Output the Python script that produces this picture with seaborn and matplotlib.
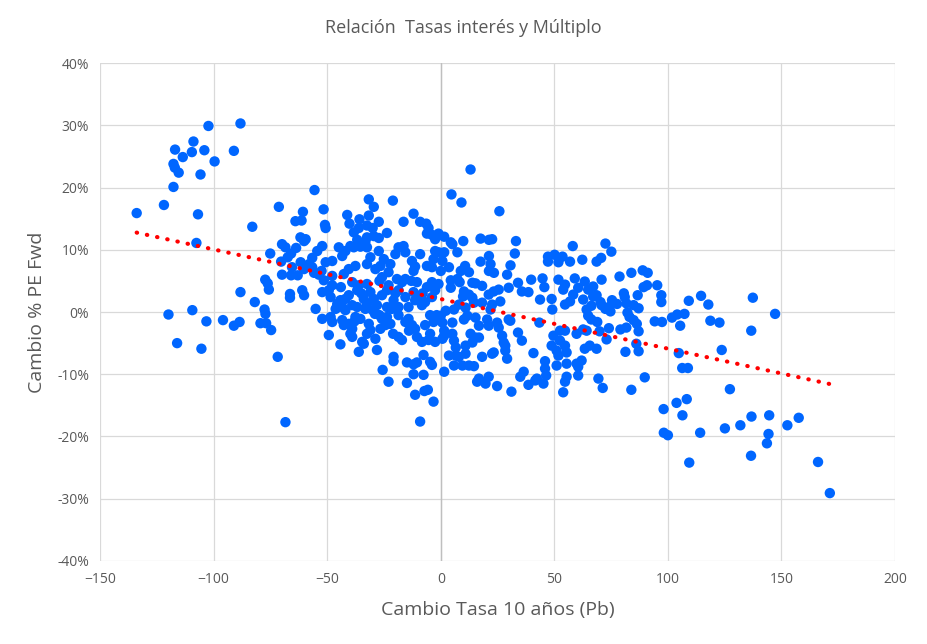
import matplotlib
matplotlib.use("Agg")
import matplotlib.pyplot as plt
import seaborn as sns
import pandas as pd
from matplotlib.ticker import FuncFormatter, MultipleLocator

# Cambio de la tasa a 10 años (puntos básicos) y cambio % del PE forward,
# leídos a ojo del gráfico original, agrupados por zona
tasa_bp = [
    # zona -150 / -50, arriba
    -102.3, -88.2, -108.9, -117.0, -109.6, -104.1, -113.6, -91.1, -99.6, -117.7,
    -117.1, -115.4, -105.8, -117.7, -133.9, -121.9, -106.9, -71.3, -64.0, -83.0,
    -107.6, -61.8, -69.9, -68.4, -63.7, -75.1, -65.9, -67.4, -70.3, -65.5,
    # zona -150 / -50, abajo
    -119.9, -109.4, -103.2, -116.1, -105.4, -95.9, -91.1, -88.6, -88.2, -81.9,
    -77.3, -76.2, -75.7, -77.6, -77.2, -79.4, -76.9, -74.7, -71.8, -68.4,
    -66.4, -66.4, -69.9, -65.9, -63.0,
    # zona -60 / 0, arriba
    -55.6, -31.7, -29.5, -21.1, -51.6, -60.7, -61.3, -51.0, -50.7, -41.2,
    -40.2, -35.8, -38.3, -36.1, -31.7, -32.5, -30.0, -27.3, -23.7, -16.4,
    -12.0, -9.1, -6.4, -5.4, -6.1, -3.9, -2.5, -1.0,
    -32.5, -27.3, -33.2, -29.5, -36.8, -39.8, -44.9, -43.4, -38.3, -35.4,
    -42.0, -32.5, -27.3, -31.0, -25.1, -22.2, -20.0, -16.4, -18.6, -15.6,
    -12.7, -11.3, -9.1, -6.1, -3.2, -2.5, -1.0, -3.9, -12.0, -23.0,
    -26.6, -28.8, -32.5, -37.6, -40.5, -42.7, -47.8, -50.7, -54.4, -56.6,
    -58.0, -60.2, -59.5, -52.2, -61.7, -60.2, -56.6, -52.5, -47.8, -55.8,
    -53.7,
    # zona -60 / 0, abajo
    -60.2, -61.0, -51.5, -47.8, -49.3, -48.5, -52.2, -44.2, -45.6, -43.4,
    -42.0, -40.5, -36.8, -36.1, -39.0, -32.5, -31.0, -29.5, -28.1, -25.9,
    -23.7, -23.0, -19.3, -17.1, -15.6, -18.6, -20.8, -15.6, -12.0, -11.3,
    -9.1, -8.3, -6.1, -3.9, -2.5, -1.0, -3.9, -6.9, -10.5, -25.9,
    -21.5, -23.7, -18.6, -14.2, -36.8, -33.2, -33.9, -39.0, -32.5, -42.0,
    -46.3, -55.1,
    -52.2, -48.5, -47.8, -43.4, -42.7, -40.5, -39.0, -37.6, -35.4, -39.8,
    -39.0, -49.3, -44.2, -33.9, -36.1, -34.6, -31.7, -31.0, -32.5, -28.8,
    -28.1, -26.6, -24.4, -22.2, -23.7, -25.9, -18.6, -17.1, -18.6, -15.6,
    -14.2, -12.7, -11.3, -10.5, -8.3, -5.4, -4.7, -2.5, -3.2, -1.0,
    -6.9, -4.7, -1.8, -20.8, -20.8, -14.9, -12.0, -10.5, -4.7, -3.9,
    -7.6, -25.6, -23.0, -14.9, -12.0, -7.6, -11.3, -7.2, -5.7, -3.2,
    -9.1,
    -30.0, -27.0, -35.0, -44.0, -27.0, -20.0, -13.0, -8.0, -14.0, -21.0,
    -29.0, -38.0,
    # zona 0 / 70, arriba
    13.1, 4.7, 9.1, 25.8, 1.5, 4.4, 5.1, 9.9, 17.5, 21.2,
    22.6, 33.1, 32.6, 7.3, 1.5, 0.7, 3.6, 0.0, 10.7, 8.8,
    12.4, 17.5, 21.2, 21.9, 21.2, 23.4, 30.7, 29.2, 58.1, 47.2,
    50.1, 53.6, 47.2, 51.8, 56.9, 62.3,
    # zona 0 / 70, abajo
    4.4, 7.3, 8.3, 4.4, 13.9, 15.3, 18.2, 10.2, 9.8, 12.4,
    21.1, 23.3, 25.5, 29.9, 34.0, 35.7, 38.6, 39.8, 44.8, 45.6,
    43.7, 48.8, 49.1, 26.2, 22.6, 21.9, 18.2, 13.9, 14.6, 10.9,
    8.0, 5.8, 2.2, 0.0, 0.7, 1.5, 5.1, 0.7, 1.5, 10.2,
    11.7, 15.3, 16.8, 20.4, 21.1, 24.8, 25.5, 29.9, 30.6, 5.1,
    5.8, 6.6, 10.9, 10.9, 13.1, 13.9, 15.3, 16.8, 3.6, 6.6,
    8.0, 5.8, 9.5, 12.4, 14.6, 1.5, 18.2, 22.6, 23.3, 27.0,
    27.7, 28.4, 28.4, 29.2, 34.0, 35.7, 40.8, 35.0, 36.5, 38.6,
    41.6, 45.2, 42.3, 16.8, 16.0, 21.1, 19.7, 24.8, 31.1, 45.9,
    45.9, 46.4, 43.4,
    51.8, 54.7, 53.9, 59.0, 60.5, 63.4, 64.9, 67.1, 58.3, 56.9,
    54.7, 62.7, 67.1, 66.3, 64.2, 64.9, 66.3, 54.7, 52.5, 49.6,
    52.5, 48.8, 51.0, 54.7, 55.4, 51.8, 51.0, 55.4, 59.8, 62.0,
    60.5, 63.4, 65.6, 60.5, 55.4, 54.7, 53.9, 62.7, 59.8, 64.2,
    # zona 70 / 95
    72.5, 75.1, 68.6, 70.6, 70.8, 78.7, 83.9, 88.9, 91.1, 89.3,
    90.8, 86.7, 80.6, 81.0, 81.7, 75.4, 77.6, 74.0, 74.7, 70.8,
    68.6, 70.3, 72.5, 84.9, 87.1, 82.2, 83.1, 84.9, 86.3, 87.1,
    68.9, 74.0, 69.9, 73.0, 79.1, 81.7, 86.1, 87.1, 81.3, 68.6,
    89.8, 69.4, 71.3, 83.9,
    # zona 95 / 175
    95.3, 97.1, 97.1, 109.2, 114.6, 117.8, 137.4, 147.2, 94.2, 97.4,
    101.8, 104.1, 107.3, 105.4, 118.7, 122.7, 136.7, 104.8, 123.7, 106.3,
    108.8, 127.3, 98.1, 103.8, 108.3, 106.4, 98.2, 100.0, 114.2, 125.1,
    131.9, 136.8, 144.6, 144.3, 143.6, 136.6, 109.4, 152.6, 157.6, 166.1,
    171.3,
]

pe_pct = [
    # zona -150 / -50, arriba
    29.9, 30.3, 27.4, 26.1, 25.7, 26.0, 24.9, 25.9, 24.2, 23.8,
    23.2, 22.4, 22.1, 20.1, 15.9, 17.2, 15.7, 16.9, 14.6, 13.7,
    11.1, 12.0, 10.9, 10.4, 10.3, 9.4, 9.4, 8.8, 8.1, 7.2,
    # zona -150 / -50, abajo
    -0.4, 0.3, -1.5, -5.0, -5.9, -1.3, -2.2, -1.6, 3.2, 1.6,
    5.2, 4.6, 3.6, 0.4, -0.3, -1.8, -1.8, -2.9, -7.2, -17.7,
    2.9, 2.3, 6.0, 5.9, 5.9,
    # zona -60 / 0, arriba
    19.6, 18.1, 16.9, 17.9, 16.5, 16.1, 14.7, 14.0, 13.5, 15.6,
    14.2, 14.9, 12.8, 13.5, 15.5, 13.9, 13.5, 14.5, 12.7, 14.5,
    15.8, 14.5, 14.2, 13.5, 12.6, 12.4, 11.7, 12.6,
    12.0, 11.9, 11.3, 12.2, 11.6, 10.6, 10.4, 9.0, 10.4, 10.5,
    9.8, 10.4, 9.8, 8.8, 8.5, 7.7, 9.3, 10.6, 10.4, 9.6,
    8.2, 7.3, 9.3, 7.4, 8.5, 9.8, 9.6, 7.2, 6.6, 6.4,
    7.4, 6.9, 7.7, 7.4, 6.9, 6.1, 8.2, 8.0, 9.8, 8.7,
    7.7, 11.4, 11.7, 10.6, 8.0, 6.9, 7.2, 6.6, 5.8, 6.3,
    6.0,
    # zona -60 / 0, abajo
    2.7, 3.5, 5.1, 4.3, 3.5, 2.4, 3.2, 1.9, 1.3, 0.8,
    2.1, 2.7, 3.5, 4.3, 4.8, 4.5, 3.2, 2.1, 1.1, 2.7,
    3.5, 4.3, 5.3, 4.8, 5.3, 3.5, 1.9, 2.4, 3.2, 1.9,
    2.1, 1.1, 4.0, 4.8, 3.5, 4.5, 2.4, 1.6, 4.8, 5.6,
    0.5, 0.8, 0.8, 0.8, 0.8, 0.5, 2.1, 1.1, 1.3, 0.3,
    0.5, 0.5,
    -1.1, -0.8, -1.6, -1.3, -2.1, -1.9, -2.7, -0.8, -1.1, -3.5,
    -4.0, -3.7, -5.2, -5.1, -6.4, -4.8, -1.9, -2.9, -3.5, -4.3,
    -6.1, -2.7, -2.1, -1.9, -0.8, -1.1, -4.0, -4.5, -0.5, -1.6,
    -1.1, -2.1, -2.7, -4.0, -4.8, -4.5, -3.5, -4.8, -1.6, -1.1,
    -2.1, -0.5, -0.5, -7.2, -7.9, -8.1, -8.4, -8.1, -8.0, -8.5,
    -6.9, -9.3, -11.2, -11.4, -10.0, -10.1, -13.3, -12.7, -12.5, -14.4,
    -17.6,
    0.3, -0.5, 3.0, 4.0, 5.0, 3.0, 5.0, 3.0, -3.0, -3.5,
    -0.3, -1.5,
    # zona 0 / 70, arriba
    22.9, 18.9, 17.6, 16.2, 12.1, 11.2, 10.9, 11.4, 11.8, 11.6,
    11.7, 11.4, 9.4, 9.6, 9.6, 8.2, 7.2, 6.6, 7.4, 6.6,
    6.4, 8.1, 9.0, 7.7, 6.6, 6.3, 7.5, 6.0, 10.6, 8.9,
    9.2, 8.9, 8.1, 8.0, 8.1, 8.4,
    # zona 0 / 70, abajo
    5.1, 5.3, 4.8, 3.9, 4.7, 4.6, 4.2, 3.3, 2.5, 2.8,
    2.8, 3.3, 3.6, 3.9, 4.7, 3.3, 3.2, 5.2, 5.4, 4.0,
    2.0, 2.1, 0.4, 1.7, 1.2, 0.4, 1.5, 2.3, 1.5, 0.7,
    1.2, 0.4, 0.2, -0.6, -1.7, -3.0, -1.7, -4.3, -3.8, -1.2,
    -0.6, -0.9, -2.2, -1.2, -2.2, -1.7, -2.5, -1.2, -1.4, -3.5,
    -4.6, -5.7, -5.4, -6.7, -3.5, -4.9, -4.1, -4.1, -7.0, -7.0,
    -7.2, -8.6, -8.6, -8.6, -8.7, -9.6, -7.2, -6.7, -6.5, -3.8,
    -4.9, -5.4, -6.2, -7.5, -3.3, -4.6, -6.6, -10.4, -9.6, -11.7,
    -11.0, -11.5, -10.7, -10.7, -11.2, -10.4, -11.5, -11.9, -12.8, -7.9,
    -9.1, -10.2, -1.7,
    5.2, 4.4, 3.6, 5.4, 3.9, 4.9, 3.6, 4.1, 2.8, 1.7,
    1.2, 2.0, 2.5, 1.0, 0.4, -0.6, -1.2, -3.0, -3.0, -3.8,
    -4.6, -5.4, -6.2, -5.4, -6.5, -7.0, -8.6, -8.3, -8.3, -7.8,
    -8.8, -5.9, -5.4, -10.2, -10.4, -11.2, -12.9, -2.8, -3.5, -3.0,
    # zona 70 / 95
    11.0, 9.7, 8.1, 8.7, 5.2, 5.7, 6.3, 6.7, 6.3, 4.0,
    4.3, 2.7, 3.0, 2.4, 1.4, 1.9, 1.3, 0.8, 0.1, 1.1,
    2.7, 1.6, 0.5, 1.1, 0.6, -0.1, -0.8, -1.3, -1.9, -3.1,
    -1.6, -2.6, -3.1, -4.4, -2.8, -2.5, -5.1, -6.3, -6.4, -5.9,
    -10.5, -10.7, -12.2, -12.5,
    # zona 95 / 175
    4.3, 2.7, 1.6, 1.8, 2.6, 1.2, 2.3, -0.3, -1.5, -1.6,
    -0.9, -0.4, -0.3, -2.2, -1.4, -1.7, -3.0, -6.6, -6.1, -9.0,
    -9.0, -12.4, -15.6, -14.6, -14.0, -16.6, -19.4, -19.8, -19.4, -18.7,
    -18.2, -16.8, -16.6, -19.6, -21.1, -23.1, -24.2, -18.2, -17.0, -24.1,
    -29.1,
]

titulo = "Relación  Tasas interés y Múltiplo"
etiqueta_x = "Cambio Tasa 10 años (Pb)"
etiqueta_y = "Cambio % PE Fwd"

df = pd.DataFrame({"tasa": tasa_bp, "pe": pe_pct})

sns.set_theme(style="white")
plt.rcParams["font.family"] = ["Open Sans", "DejaVu Sans"]

gris_texto = "#595959"
fig = plt.figure(figsize=(9.27, 6.44), dpi=100)
ax = fig.add_axes([0.108, 0.129, 0.8575, 0.773])

ax.grid(True, color="#d9d9d9", linewidth=0.9)
ax.set_axisbelow(True)
ax.axvline(0, color="#bfbfbf", linewidth=1.0, zorder=1)

sns.scatterplot(data=df, x="tasa", y="pe", ax=ax, color="#0066FF",
                s=56, edgecolor="none", zorder=3)

# línea de tendencia (regresión lineal) punteada en rojo
sns.regplot(data=df, x="tasa", y="pe", ax=ax, scatter=False, ci=None,
            truncate=True,
            line_kws=dict(color="#FF0000", linewidth=3.0,
                          linestyle=(0, (0.1, 2.4)),
                          dash_capstyle="round", zorder=4))

ax.set_xlim(-150, 200)
ax.set_ylim(-40, 40)
ax.xaxis.set_major_locator(MultipleLocator(50))
ax.yaxis.set_major_locator(MultipleLocator(10))
ax.yaxis.set_major_formatter(FuncFormatter(lambda v, p: f"{v:.0f}%"))
ax.tick_params(length=0, labelsize=10, colors=gris_texto, pad=8)

for s in ax.spines.values():
    s.set_visible(False)

ax.set_xlabel(etiqueta_x, fontsize=14, color=gris_texto, labelpad=10)
ax.set_ylabel(etiqueta_y, fontsize=14, color=gris_texto, labelpad=8)
fig.text(0.5, 0.957, titulo, ha="center", va="center",
         fontsize=13, color=gris_texto)

fig.savefig("out.png", dpi=100)
